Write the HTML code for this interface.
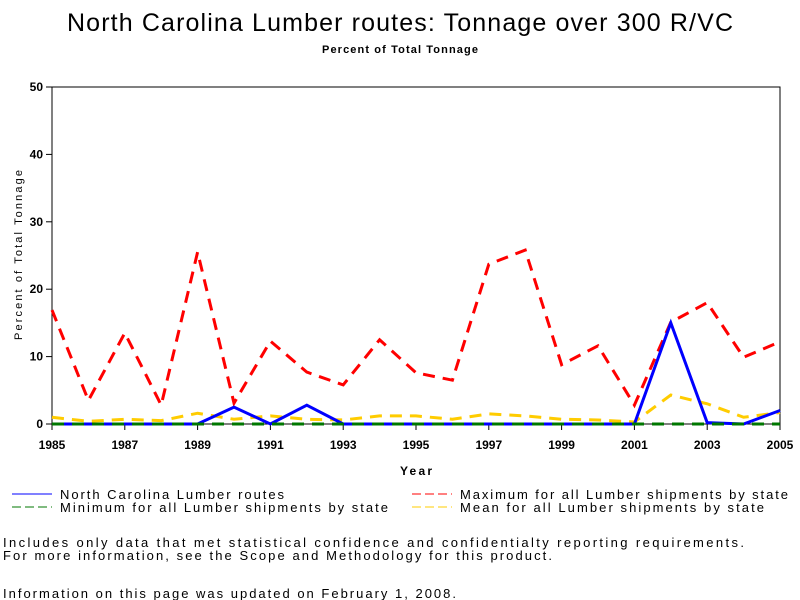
<!DOCTYPE html>
<html><head><meta charset="utf-8"><style>
html,body{margin:0;padding:0;background:#fff;}
svg{display:block;font-family:"Liberation Sans",sans-serif;}
</style></head><body>
<svg id="chart" width="800" height="600" viewBox="0 0 800 600">
<rect width="800" height="600" fill="#fff"/>
<text x="400" y="31" font-size="25" text-anchor="middle" textLength="666">North Carolina Lumber routes: Tonnage over 300 R/VC</text>
<text x="400" y="53" font-size="11" font-weight="bold" text-anchor="middle" textLength="156">Percent of Total Tonnage</text>
<rect x="52" y="87" width="728" height="337" fill="none" stroke="#000" stroke-width="1"/>
<g id="yaxis"></g>
<g id="xaxis"></g>
<text transform="translate(22,255) rotate(-90)" font-size="11" text-anchor="middle" textLength="170">Percent of Total Tonnage</text>
<text x="416" y="475" font-size="12" font-weight="bold" text-anchor="middle" textLength="32">Year</text>
<g id="series"></g>
<g font-size="13">
<g><line x1="12" y1="494" x2="52" y2="494" stroke="#00f" stroke-width="1"/><text x="60" y="499" textLength="224">North Carolina Lumber routes</text></g>
<g><line x1="12" y1="507" x2="52" y2="507" stroke="#070" stroke-width="1" stroke-dasharray="9,4"/><text x="60" y="512" textLength="328">Minimum for all Lumber shipments by state</text></g>
<g><line x1="412" y1="494" x2="452" y2="494" stroke="#f00" stroke-width="1" stroke-dasharray="9,4"/><text x="460" y="499" textLength="328">Maximum for all Lumber shipments by state</text></g>
<g><line x1="412" y1="507" x2="452" y2="507" stroke="#fc0" stroke-width="1" stroke-dasharray="9,4"/><text x="460" y="512" textLength="304">Mean for all Lumber shipments by state</text></g>
</g>
<g font-size="13">
<text x="3" y="547" textLength="741">Includes only data that met statistical confidence and confidentialty reporting requirements.</text>
<text x="3" y="560" textLength="549">For more information, see the Scope and Methodology for this product.</text>
<text x="3" y="598" textLength="453">Information on this page was updated on February 1, 2008.</text>
</g>
</svg>
<script>
const years = [1985,1986,1987,1988,1989,1990,1991,1992,1993,1994,1995,1996,1997,1998,1999,2000,2001,2002,2003,2004,2005];
const ncValues = [0,0,0,0,0,2.5,0,2.8,0,0,0,0,0,0,0,0,0,15,0.2,0,2];
const maxValues = [16.9,3.5,13.5,2.8,25.5,3.1,12.3,7.7,5.8,12.5,7.6,6.5,23.7,25.8,8.8,11.6,2.8,15.1,18,9.9,12.2];
const minValues = [0,0,0,0,0,0,0,0,0,0,0,0,0,0,0,0,0,0,0,0,0];
const meanValues = [1.0,0.4,0.7,0.5,1.6,0.7,1.2,0.7,0.6,1.2,1.2,0.7,1.5,1.2,0.7,0.6,0.3,4.3,3.0,1.0,1.7];
const yTicks = [0,10,20,30,40,50];
const xTicks = [1985,1987,1989,1991,1993,1995,1997,1999,2001,2003,2005];
const NS='http://www.w3.org/2000/svg';
const X0=52,X1=780,Y0=424,Y1=87;
function xs(v){return X0+(v-1985)/(2005-1985)*(X1-X0);}
function ys(v){return Y0-(v/50)*(Y0-Y1);}
function mk(tag,attrs,parent){const e=document.createElementNS(NS,tag);for(const k in attrs)e.setAttribute(k,attrs[k]);parent.appendChild(e);return e;}
const ya=document.getElementById('yaxis'),xa=document.getElementById('xaxis'),sg=document.getElementById('series');
yTicks.forEach(t=>{
  const l=mk('line',{x1:X0-6,x2:X0,y1:ys(t),y2:ys(t),stroke:'#000'},ya);
  
  
  const tx=mk('text',{x:X0-9,y:ys(t)+4,'font-size':12,'font-weight':'bold','text-anchor':'end'},ya);
  tx.textContent=t;
  
  
});
xTicks.forEach(t=>{
  const l=mk('line',{x1:xs(t),x2:xs(t),y1:Y0,y2:Y0+6,stroke:'#000'},xa);
  
  
  const tx=mk('text',{x:xs(t),y:Y0+25,'font-size':12,'font-weight':'bold','text-anchor':'middle'},xa);
  tx.textContent=t;
  
  
});
function line(vals,color,dash,w,name){
  const p=mk('polyline',{points:vals.map((v,i)=>xs(years[i])+','+ys(v)).join(' '),fill:'none',stroke:color,'stroke-width':w,'stroke-dasharray':dash},sg);
  
  
}
line(meanValues,'#fc0','12,8',3,'mean-line');
line(maxValues,'#f00','12,8',3,'max-line');
line(ncValues,'#00f','none',3,'nc-line');
line(minValues,'#070','12,8',3,'min-line');
</script>
</body></html>
